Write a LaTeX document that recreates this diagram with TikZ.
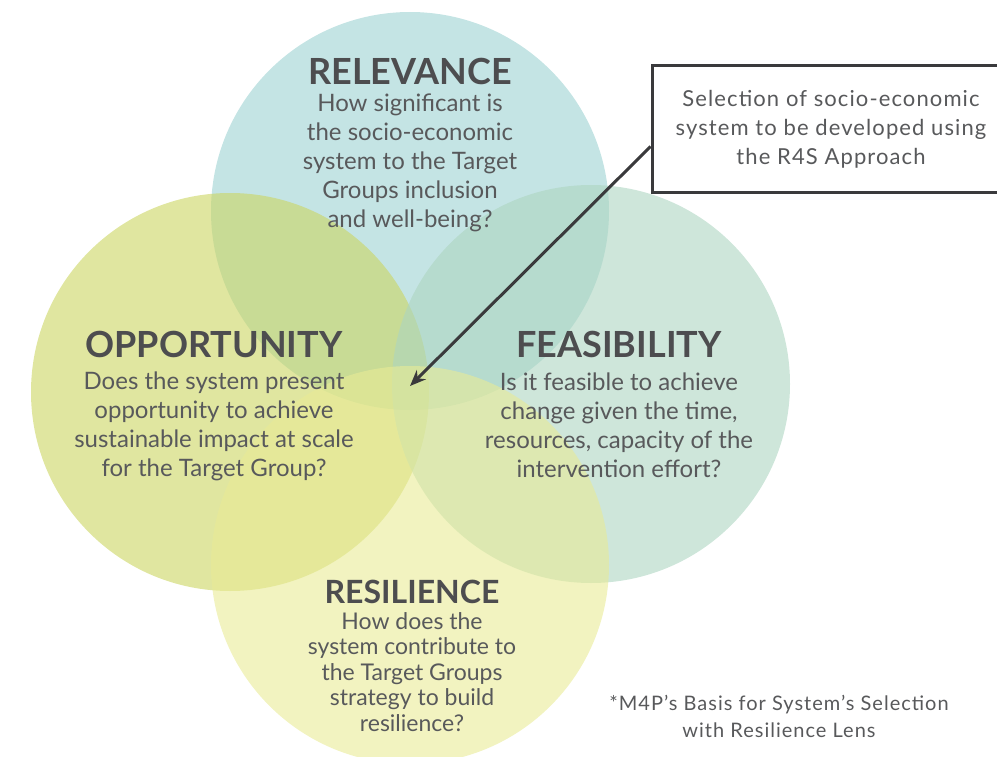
\documentclass[tikz,border=0pt]{standalone}
\usepackage{fontspec}
\setmainfont{Lato}
\newfontfamily\widefont[LetterSpace=5]{Lato}
\usetikzlibrary{positioning, arrows.meta}

\definecolor{relBlue}{HTML}{9DD2D2}
\definecolor{oppYellow}{HTML}{CBD561}
\definecolor{feaGreen}{HTML}{ADD5C1}
\definecolor{resYellow}{HTML}{E9EB96}
\definecolor{textGray}{HTML}{58595B}
\definecolor{titleGray}{HTML}{4D4D4F}
\definecolor{lineGray}{HTML}{3A3A3C}

\tikzset{
  lens/.style={fill opacity=0.6, draw=none},
  title/.style={inner sep=0pt, text=titleGray, font=\bfseries\fontsize{36}{40}\selectfont},
  question/.style={inner sep=0pt, align=center, text=textGray, font=\fontsize{24}{29}\selectfont},
}

\begin{document}
\begin{tikzpicture}[x=1pt, y=-1pt]
    \useasboundingbox (0,0) rectangle (997,757);
    \clip (0,0) rectangle (997,757);

    % the four circles
    \fill[lens, relBlue] (410,211) circle (199);
    \fill[lens, oppYellow] (230,392) circle (199);
    \fill[lens, feaGreen] (591,384) circle (199);
    \fill[lens, resYellow] (410,565) circle (199);

    \node[title] (relTitle) at (410, 71) {RELEVANCE};
    \node[question, below = 9pt of relTitle] (relText) {How significant is\\the socio-economic\\system to the Target\\Groups inclusion\\and well-being?};

    \node[title] (oppTitle) at (214, 344) {OPPORTUNITY};
    \node[question, below = 14pt of oppTitle] (oppText) {Does the system present\\opportunity to achieve\\sustainable impact at scale\\for the Target Group?};

    \node[title] (feaTitle) at (619, 344) {FEASIBILITY};
    \node[question, below = 15pt of feaTitle] (feaText) {Is it feasible to achieve\\change given the time,\\resources, capacity of the\\intervention effort?};

    \node[title, font=\bfseries\fontsize{32}{36}\selectfont] (resTitle) at (412, 592) {RESILIENCE};
    \node[question, below = 8pt of resTitle, font=\fontsize{23}{25.5}\selectfont] (resText) {How does the\\system contribute to\\the Target Groups\\strategy to build\\resilience?};

    % callout
    \node[draw=lineGray, line width=3pt, fill=white, minimum width=358pt, minimum height=127pt, align=center,
          text=textGray, font=\widefont\fontsize{22}{29}\selectfont] (selBox) at (831, 129.5)
          {Selection of socio-economic\\system to be developed using\\the R4S Approach};
    \coordinate (core) at (410, 386);
    \draw[-{Stealth[length=16pt, width=13pt]}, line width=3pt, lineGray] ([yshift=-17pt]selBox.west) -- (core);

    \node[align=center, text=textGray, font=\widefont\fontsize{20}{27}\selectfont] (note) at (779, 716)
          {*M4P’s Basis for System’s Selection\\with Resilience Lens};
\end{tikzpicture}
\end{document}
